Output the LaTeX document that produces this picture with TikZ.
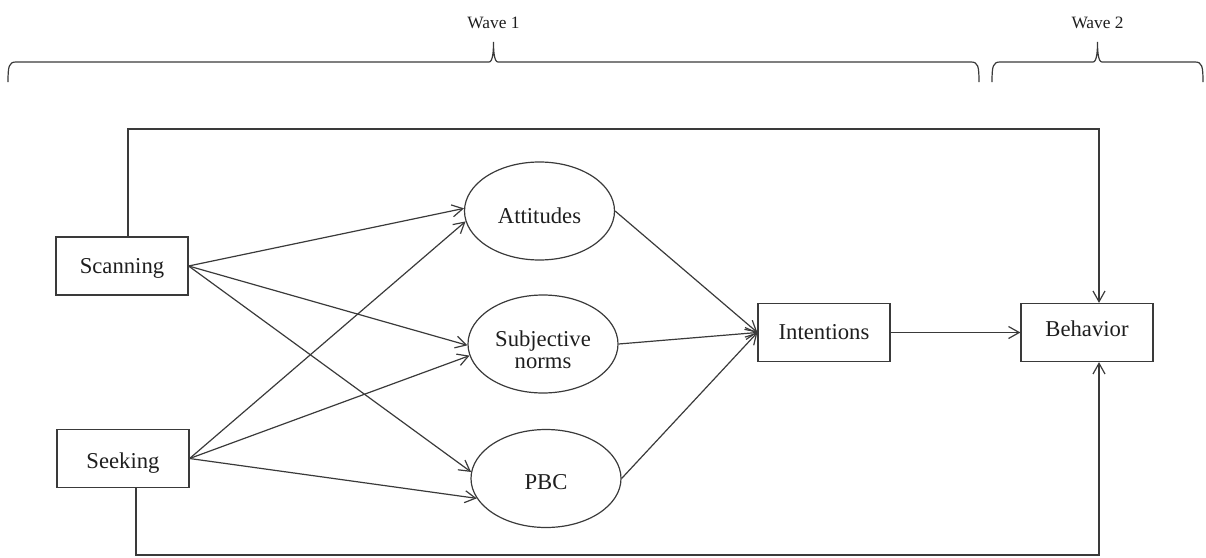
\documentclass[tikz,border=0pt]{standalone}
\usepackage{fontspec}
\setmainfont{Liberation Serif}
\usetikzlibrary{arrows.meta,shapes.geometric}
\definecolor{ink}{RGB}{58,58,58}
\definecolor{txt}{RGB}{30,30,30}
% set a label with its baseline at a given height from the node centre
\newcommand\atbase[2]{\raisebox{#1}[0pt][0pt]{#2}}
\tikzset{
  box/.style={draw=ink, line width=0.9pt, rectangle, minimum width=99pt, minimum height=43.5pt, inner sep=0pt, text=txt, font=\fontsize{17}{17}\selectfont},
  oval/.style={draw=ink, line width=0.9pt, ellipse, minimum width=112.5pt, minimum height=73.5pt, inner sep=0pt, text=txt, font=\fontsize{17}{17}\selectfont},
  arr/.style={draw=ink, line width=0.9pt, -{Straight Barb[length=8pt,width=9pt]}},
  brace/.style={draw=ink, line width=0.9pt},
  wave/.style={text=txt, font=\fontsize{13}{15}\selectfont, anchor=base, inner sep=0pt}
}
\begin{document}
\begin{tikzpicture}[x=0.75pt, y=-0.75pt]
\useasboundingbox (0,0) rectangle (1206,557);

% time-span braces
\draw[brace] (8,82) .. controls (8,66) and (9,62) .. (16,62) -- (489,62)
  .. controls (493,62) and (493.5,50) .. (493.5,42)
  .. controls (493.5,50) and (494,62) .. (498,62) -- (971,62)
  .. controls (978,62) and (979,66) .. (979,82);
\draw[brace] (992,82) .. controls (992,66) and (993,62) .. (1000,62) -- (1093,62)
  .. controls (1097,62) and (1097.5,50) .. (1097.5,42)
  .. controls (1097.5,50) and (1098,62) .. (1102,62) -- (1195,62)
  .. controls (1202,62) and (1203,66) .. (1203,82);
\node[wave] (w1) at (493.5,28) {Wave 1};
\node[wave] (w2) at (1097.5,28) {Wave 2};

% variables
\node[box] (scan) at (122,266) {\atbase{-5.5pt}{Scanning}};
\node[box] (seek) at (123,458.5) {\atbase{-7.4pt}{Seeking}};
\node[oval] (att) at (539.5,211) {\atbase{-9.4pt}{Attitudes}};
\node[oval] (subj) at (543,344) {\atbase{-18.7pt}{\begin{tabular}[b]{@{}c@{}}Subjective\\norms\end{tabular}}};
\node[oval] (pbc) at (546,478.5) {\atbase{-8.1pt}{PBC}};
\node[box] (int) at (824,332.5) {\atbase{-5.6pt}{Intentions}};
\node[box] (beh) at (1087,332.5) {\atbase{-3.1pt}{Behavior}};

% paths from information behaviours to beliefs
\draw[arr] (scan.east) -- (att.178);
\draw[arr] (scan.east) -- (subj.181);
\draw[arr] (scan.east) -- (pbc.175);
\draw[arr] (seek.east) -- (att.188);
\draw[arr] (seek.east) -- (subj.189);
\draw[arr] (seek.east) -- (pbc.196);

% beliefs to intentions to behaviour
\draw[arr] (att.east) -- (int.west);
\draw[arr] (subj.east) -- (int.west);
\draw[arr] (pbc.east) -- (int.west);
\draw[arr] (int) -- (beh);

% direct paths to behaviour
\coordinate (tl) at (128,129);
\coordinate (tr) at (1099,129);
\coordinate (bl) at (136,555);
\coordinate (br) at (1099,555);
\draw[arr] (tl |- scan.north) -- (tl) -- (tr) -- (tr |- beh.north);
\draw[arr] (bl |- seek.south) -- (bl) -- (br) -- (br |- beh.south);
\end{tikzpicture}
\end{document}
